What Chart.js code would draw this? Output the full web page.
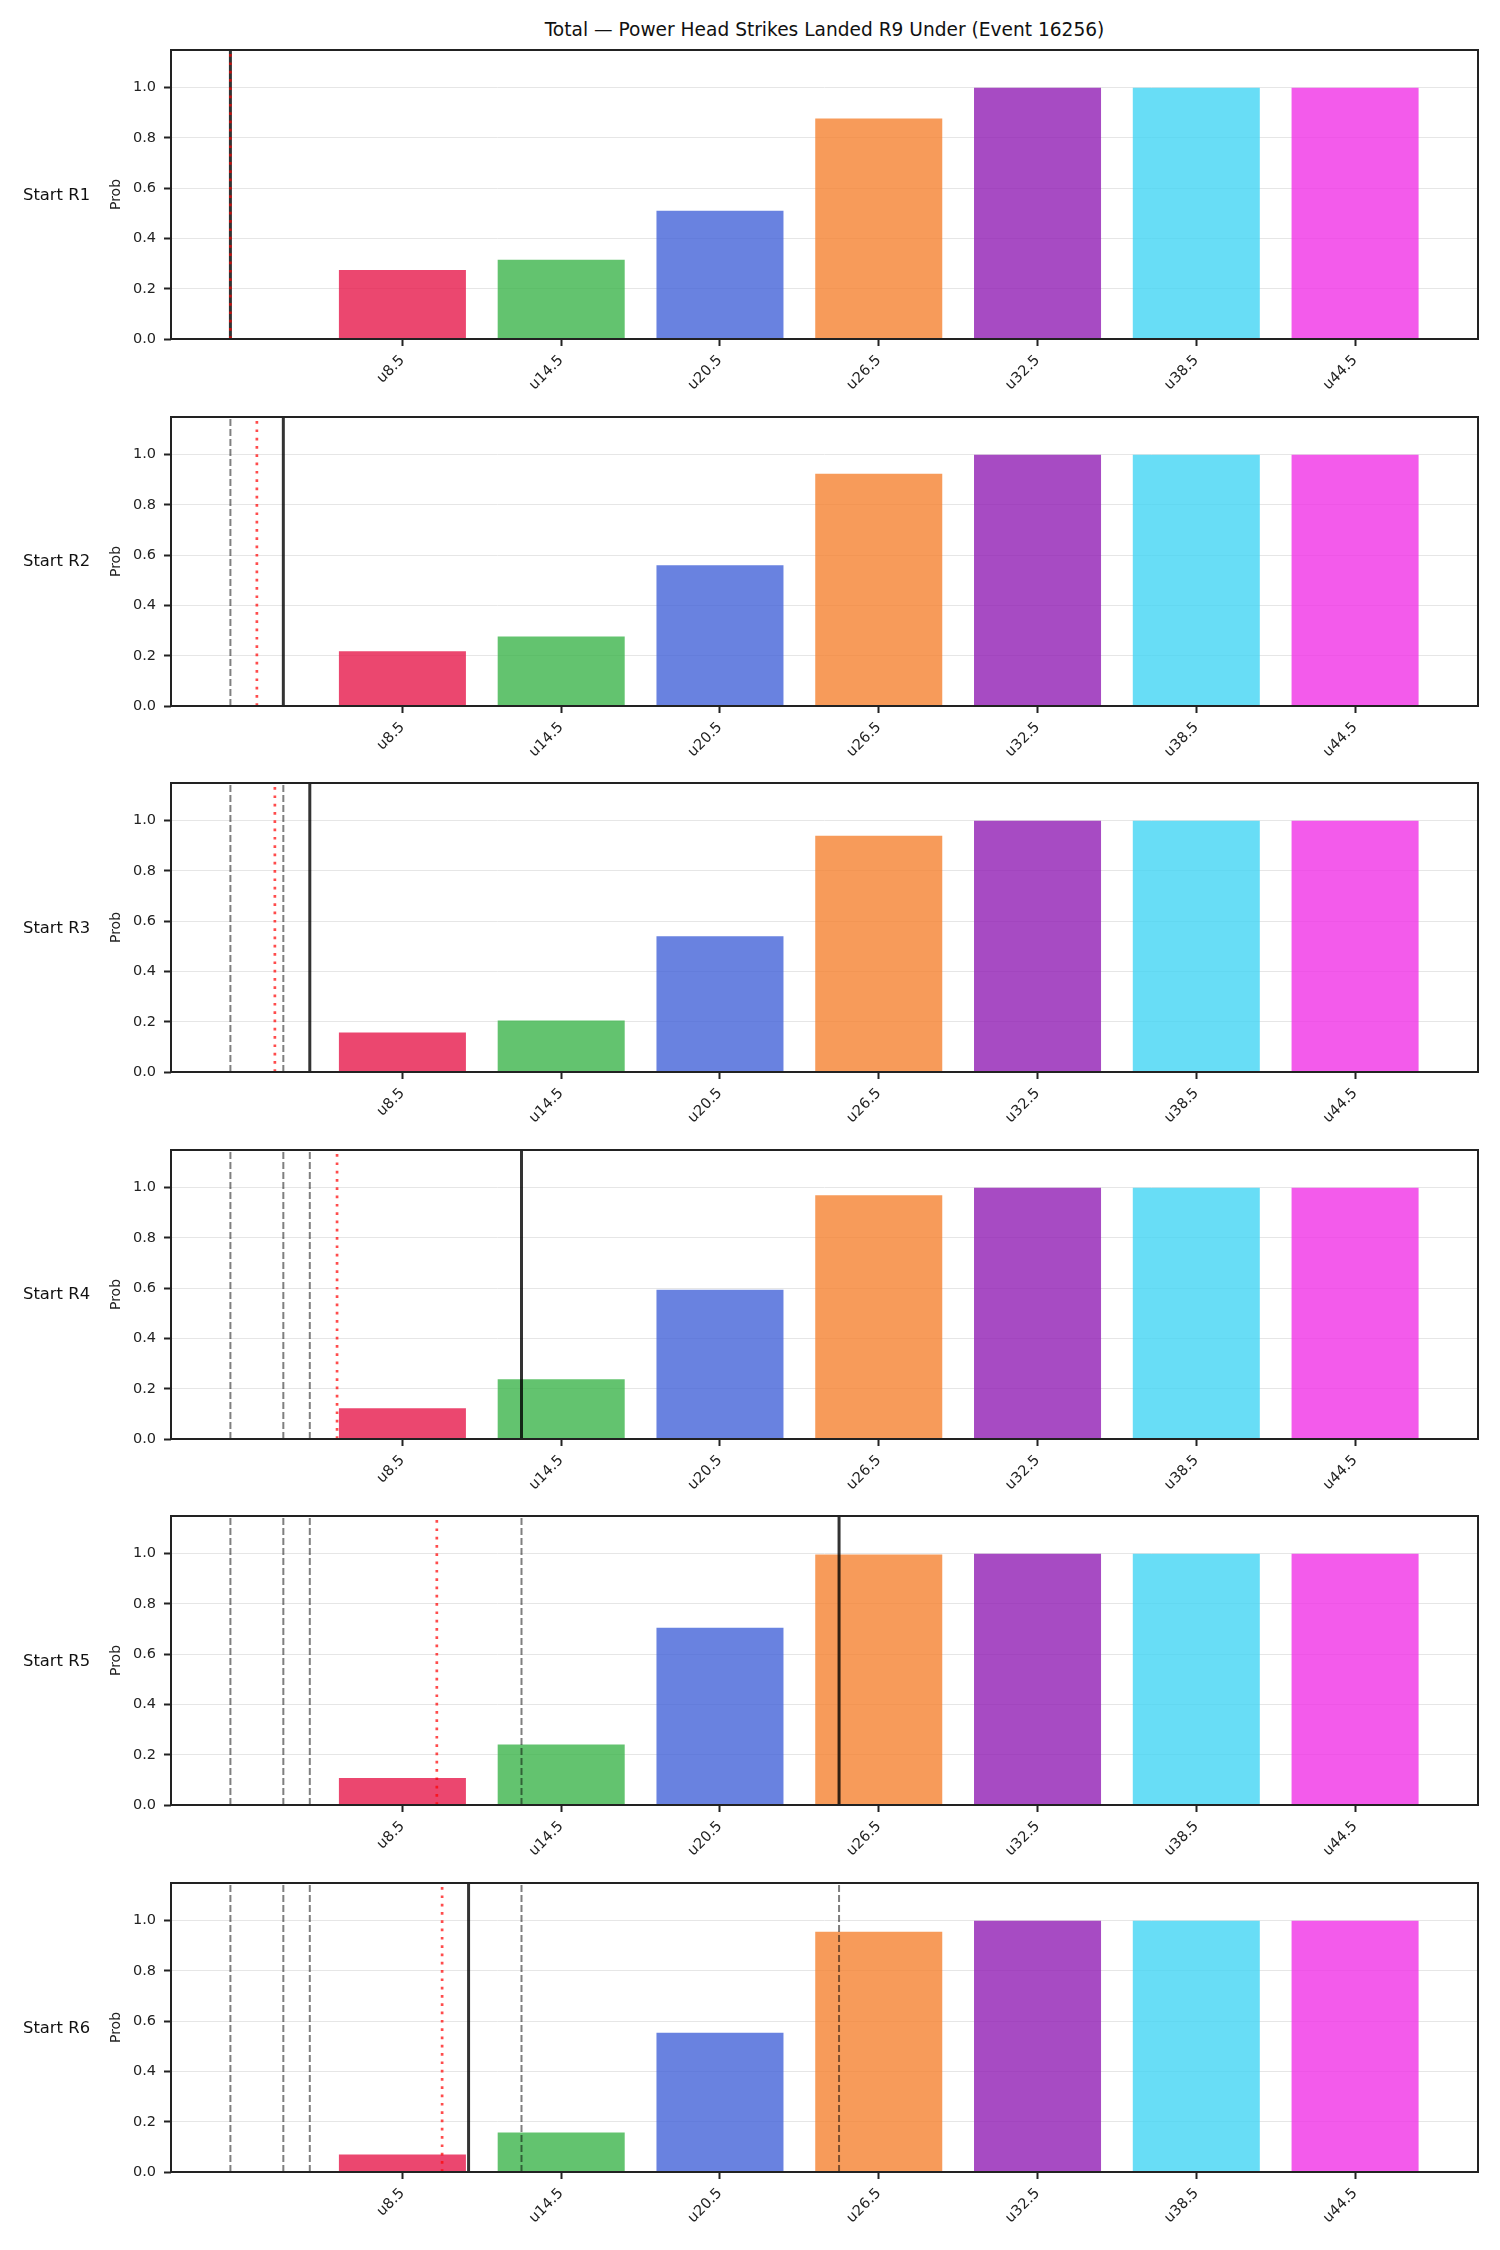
<!DOCTYPE html>
<html>
<head>
<meta charset="utf-8">
<script src="https://cdn.jsdelivr.net/npm/chart.js@4.4.1/dist/chart.umd.min.js"></script>
<style>
  html, body { margin: 0; padding: 0; background: #ffffff; }
  body { width: 1500px; height: 2250px; position: relative; overflow: hidden; font-family: "DejaVu Sans", sans-serif; }
  canvas { position: absolute; left: 0; }
  .rowlbl { position: absolute; left: 23px; font-size: 16.4px; color: #111; transform: translateY(-50%); white-space: nowrap; line-height: 1; }
  #title { position: absolute; top: 30px; left: 171px; width: 1307px; text-align: center; font-size: 18.6px; color: #111; transform: translateY(-50%); line-height: 1; white-space: nowrap; }
</style>
</head>
<body>
<div id="title">Total — Power Head Strikes Landed R9 Under (Event 16256)</div>
<script>
// ---------- data ----------
const categories = ['u8.5', 'u14.5', 'u20.5', 'u26.5', 'u32.5', 'u38.5', 'u44.5'];
const lineValues = [8.5, 14.5, 20.5, 26.5, 32.5, 38.5, 44.5];
const rowLabels = ['Start R1', 'Start R2', 'Start R3', 'Start R4', 'Start R5', 'Start R6'];

const probR1 = [0.275, 0.315, 0.51, 0.877, 1.0, 1.0, 1.0];
const probR2 = [0.218, 0.277, 0.56, 0.924, 1.0, 1.0, 1.0];
const probR3 = [0.157, 0.205, 0.54, 0.94, 1.0, 1.0, 1.0];
const probR4 = [0.122, 0.238, 0.594, 0.97, 1.0, 1.0, 1.0];
const probR5 = [0.107, 0.241, 0.705, 0.997, 1.0, 1.0, 1.0];
const probR6 = [0.07, 0.157, 0.554, 0.956, 1.0, 1.0, 1.0];
const probRows = [probR1, probR2, probR3, probR4, probR5, probR6];

// strikes landed at the start of each round (solid black), earlier rounds shown dashed
const currentMarks = [2, 4, 5, 13, 25, 11];
// projected pace (red dotted)
const projectedMarks = [2, 3, 3.68, 6.03, 9.8, 10.0];

const yTicks = [0, 0.2, 0.4, 0.6, 0.8, 1.0];
const yMin = 0, yMax = 1.15;
const xMin = -0.245, xMax = 49.145;

const barColors = [
  'rgba(230,25,75,0.8)', 'rgba(60,180,75,0.8)', 'rgba(67,99,216,0.8)', 'rgba(245,130,49,0.8)',
  'rgba(145,30,180,0.8)', 'rgba(66,212,244,0.8)', 'rgba(240,50,230,0.8)'
];

// ---------- layout ----------
const axLeft = 171, axRight = 1478, axHeight = 289, firstTop = 50, rowStep = 366.6;
const padTop = 5, xAxisH = 70;

Chart.defaults.font.family = '"DejaVu Sans", sans-serif';
Chart.defaults.color = '#222';

const spines = {
  id: 'spines',
  afterDraw(chart) {
    const { ctx, chartArea: a } = chart;
    ctx.save();
    ctx.strokeStyle = '#222';
    ctx.lineWidth = 2;
    ctx.strokeRect(a.left, a.top, a.right - a.left, a.bottom - a.top);
    ctx.restore();
  }
};

function vlines(values) {
  const pts = [];
  values.forEach(v => { pts.push({ x: v, y: yMin }, { x: v, y: yMax }, { x: v, y: null }); });
  return pts;
}

probRows.forEach((probs, i) => {
  const top = firstTop + i * rowStep;
  const cv = document.createElement('canvas');
  cv.width = 1500;
  cv.height = padTop + axHeight + xAxisH;
  cv.style.top = (top - padTop) + 'px';
  document.body.appendChild(cv);

  const lbl = document.createElement('div');
  lbl.className = 'rowlbl';
  lbl.textContent = rowLabels[i];
  lbl.style.top = (top + axHeight / 2) + 'px';
  document.body.appendChild(lbl);

  const previous = currentMarks.slice(0, i);

  new Chart(cv, {
    type: 'bar',
    data: {
      datasets: [
        { type: 'line', data: vlines([projectedMarks[i]]), borderColor: 'rgba(255,0,0,0.7)', borderWidth: 2.7, borderDash: [2.7, 5.6], pointRadius: 0, fill: false, tension: 0, spanGaps: false },
        { type: 'line', data: vlines([currentMarks[i]]), borderColor: 'rgba(0,0,0,0.8)', borderWidth: 3, pointRadius: 0, fill: false, tension: 0, spanGaps: false },
        { type: 'line', data: vlines(previous), borderColor: 'rgba(0,0,0,0.5)', borderWidth: 2, borderDash: [7, 3], pointRadius: 0, fill: false, tension: 0, spanGaps: false },
        { type: 'bar', data: categories.map((c, j) => ({ x: lineValues[j], y: probs[j] })), backgroundColor: barColors, borderWidth: 0, barPercentage: 0.8, categoryPercentage: 1.0 }
      ]
    },
    options: {
      responsive: false,
      animation: false,
      events: [],
      layout: { padding: { top: padTop, left: 0, right: 1500 - axRight, bottom: 0 } },
      plugins: { legend: { display: false }, tooltip: { enabled: false }, title: { display: false } },
      scales: {
        x: {
          type: 'linear',
          min: xMin, max: xMax,
          offset: false,
          afterBuildTicks: s => { s.ticks = lineValues.map(v => ({ value: v })); },
          afterFit: s => { s.height = xAxisH; s.paddingLeft = 0; s.paddingRight = 0; },
          ticks: {
            autoSkip: false, minRotation: 45, maxRotation: 45, padding: 6,
            font: { size: 14.5 }, color: '#222',
            callback: v => { const k = lineValues.indexOf(v); return k >= 0 ? categories[k] : ''; }
          },
          grid: { display: true, drawOnChartArea: false, offset: false, drawTicks: true, tickLength: 7, tickColor: '#222', tickWidth: 2 },
          border: { display: false }
        },
        y: {
          min: yMin, max: yMax,
          afterBuildTicks: s => { s.ticks = yTicks.map(v => ({ value: v })); },
          afterFit: s => { s.width = axLeft; s.paddingTop = 0; s.paddingBottom = 0; },
          ticks: { font: { size: 14.5 }, color: '#222', padding: 8, callback: v => Number(v).toFixed(1) },
          grid: { color: '#e6e6e6', lineWidth: 1, tickLength: 7, tickColor: '#222', tickWidth: 2 },
          border: { display: false },
          title: { display: true, text: 'Prob', font: { size: 14 }, color: '#222', padding: { top: 108, bottom: 0 } }
        }
      }
    },
    plugins: [spines]
  });
});
</script>
</body>
</html>
